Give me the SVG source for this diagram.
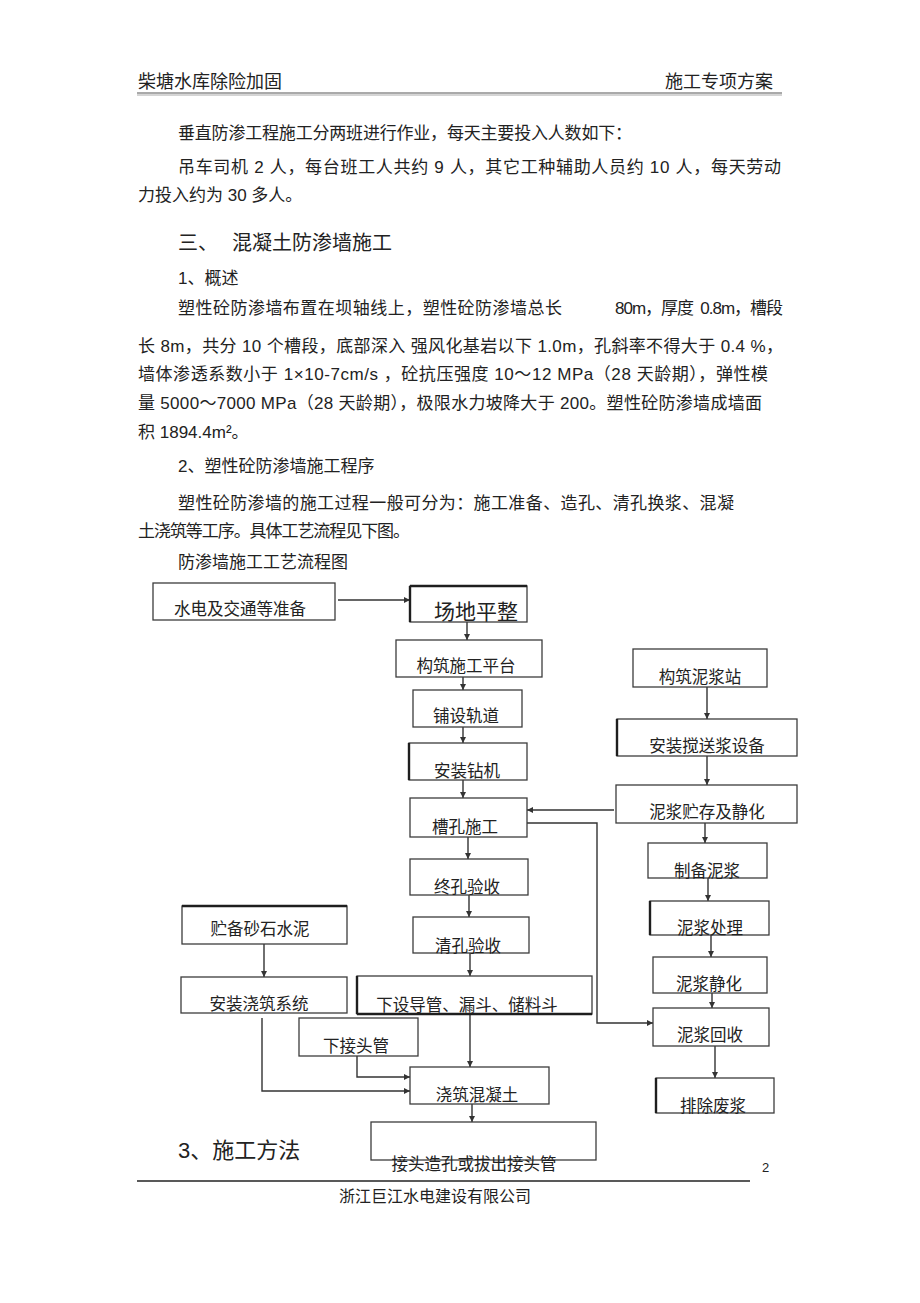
<svg xmlns="http://www.w3.org/2000/svg" width="920" height="1303" viewBox="0 0 920 1303">
<style>
text{font-family:"Liberation Sans","Noto Sans CJK SC",sans-serif;fill:#222}
.body{font-size:17px}
.h1{font-size:20px}
.lbl{font-size:16.5px;text-anchor:middle}
.big{font-size:21px}
.box{fill:none;stroke:#3c3c3c;stroke-width:1.3}
.edge{stroke:#1e1e1e;stroke-width:2.4}
.conn{fill:none;stroke:#333;stroke-width:1.4}
</style>
<defs>
<marker id="ah" viewBox="0 0 10 10" refX="10" refY="5" markerWidth="7" markerHeight="6" markerUnits="userSpaceOnUse" orient="auto">
<path d="M0,0 L10,5 L0,10 z" fill="#333"/>
</marker>
</defs>
<rect width="920" height="1303" fill="#fff"/>

<!-- header -->
<g id="header">
<text x="138" y="88" font-size="18">柴塘水库除险加固</text>
<text x="773" y="88" font-size="18" text-anchor="end">施工专项方案</text>
<line x1="137" y1="93" x2="782" y2="93" stroke="#555" stroke-width="1"/>
<line x1="137" y1="95" x2="782" y2="95" stroke="#aaa" stroke-width="1"/>
</g>

<!-- body text -->
<g id="bodytext">
<text class="body" x="178" y="139" textLength="454" lengthAdjust="spacing">垂直防渗工程施工分两班进行作业，每天主要投入人数如下：</text>
<text class="body" x="178" y="173" textLength="603" lengthAdjust="spacing">吊车司机 2 人，每台班工人共约 9 人，其它工种辅助人员约 10 人，每天劳动</text>
<text class="body" x="138" y="201">力投入约为 30 多人。</text>
<text class="h1" x="178" y="250">三、<tspan x="232">混凝土防渗墙施工</tspan></text>
<text class="body" x="178" y="284">1、概述</text>
<text class="body" y="314"><tspan x="178" textLength="384" lengthAdjust="spacing">塑性砼防渗墙布置在坝轴线上，塑性砼防渗墙总长</tspan><tspan x="615" textLength="168" lengthAdjust="spacing" xml:space="preserve">80m，厚度  0.8m，槽段</tspan></text>
<text class="body" x="138" y="352" textLength="645" lengthAdjust="spacing">长 8m，共分 10 个槽段，底部深入 强风化基岩以下 1.0m，孔斜率不得大于 0.4 %，</text>
<text class="body" x="138" y="380" textLength="630" lengthAdjust="spacing">墙体渗透系数小于 1×10-7cm/s ，砼抗压强度 10～12 MPa（28 天龄期），弹性模</text>
<text class="body" x="138" y="409" textLength="624" lengthAdjust="spacing">量 5000～7000 MPa（28 天龄期），极限水力坡降大于 200。塑性砼防渗墙成墙面</text>
<text class="body" x="138" y="438">积 1894.4m²。</text>
<text class="body" x="178" y="472">2、塑性砼防渗墙施工程序</text>
<text class="body" x="178" y="509" textLength="556" lengthAdjust="spacing">塑性砼防渗墙的施工过程一般可分为：施工准备、造孔、清孔换浆、混凝</text>
<text class="body" x="138" y="537" textLength="272" lengthAdjust="spacing">土浇筑等工序。具体工艺流程见下图。</text>
<text class="body" x="178" y="568">防渗墙施工工艺流程图</text>
</g>

<!-- connectors -->
<g id="connectors" class="conn">
<line x1="338" y1="600" x2="410" y2="600" marker-end="url(#ah)"/>
<line x1="467" y1="622" x2="467" y2="640" marker-end="url(#ah)"/>
<line x1="463" y1="677" x2="463" y2="690" marker-end="url(#ah)"/>
<line x1="463" y1="727" x2="463" y2="743" marker-end="url(#ah)"/>
<line x1="463" y1="780" x2="463" y2="798" marker-end="url(#ah)"/>
<line x1="468" y1="837" x2="468" y2="859" marker-end="url(#ah)"/>
<line x1="469" y1="895" x2="469" y2="917" marker-end="url(#ah)"/>
<line x1="470" y1="953" x2="470" y2="976" marker-end="url(#ah)"/>
<line x1="470" y1="1014" x2="470" y2="1067" marker-end="url(#ah)"/>
<line x1="472" y1="1104" x2="472" y2="1122" marker-end="url(#ah)"/>
<line x1="264" y1="944" x2="264" y2="977" marker-end="url(#ah)"/>
<polyline points="357,1056 357,1077 410,1077" marker-end="url(#ah)"/>
<polyline points="262,1018 262,1091 410,1091" marker-end="url(#ah)"/>
<line x1="707" y1="687" x2="707" y2="719" marker-end="url(#ah)"/>
<line x1="707" y1="756" x2="707" y2="785" marker-end="url(#ah)"/>
<line x1="705" y1="823" x2="705" y2="843" marker-end="url(#ah)"/>
<line x1="708" y1="878" x2="708" y2="901" marker-end="url(#ah)"/>
<line x1="711" y1="935" x2="711" y2="957" marker-end="url(#ah)"/>
<line x1="712" y1="993" x2="712" y2="1008" marker-end="url(#ah)"/>
<line x1="715" y1="1046" x2="715" y2="1078" marker-end="url(#ah)"/>
<line x1="614" y1="810" x2="527" y2="810" marker-end="url(#ah)"/>
<polyline points="527,823 597,823 597,1023 653,1023" marker-end="url(#ah)"/>
</g>

<!-- nodes -->
<g id="n-shuidian"><rect class="box" x="153" y="583" width="182" height="37"/><text class="lbl" x="240" y="615">水电及交通等准备</text></g>
<g id="n-changdi"><rect class="box" x="410" y="586" width="117" height="36"/><line class="edge" x1="410" y1="586" x2="410" y2="622"/><line class="edge" x1="410" y1="586" x2="527" y2="586"/><text class="lbl big" x="476" y="619">场地平整</text></g>
<g id="n-pingtai"><rect class="box" x="396" y="640" width="146" height="37"/><text class="lbl" x="466" y="672">构筑施工平台</text></g>
<g id="n-guidao"><rect class="box" x="413" y="690" width="109" height="37"/><text class="lbl" x="466" y="722">铺设轨道</text></g>
<g id="n-zuanji"><rect class="box" x="409" y="743" width="118" height="37"/><line class="edge" x1="409" y1="743" x2="409" y2="780"/><text class="lbl" x="467" y="777">安装钻机</text></g>
<g id="n-caokong"><rect class="box" x="410" y="798" width="117" height="39"/><text class="lbl" x="465" y="833">槽孔施工</text></g>
<g id="n-zhongkong"><rect class="box" x="410" y="859" width="118" height="36"/><text class="lbl" x="467" y="893">终孔验收</text></g>
<g id="n-qingkong"><rect class="box" x="413" y="917" width="116" height="36"/><text class="lbl" x="468" y="952">清孔验收</text></g>
<g id="n-zhubei"><rect class="box" x="182" y="906" width="165" height="38"/><line class="edge" x1="182" y1="906" x2="347" y2="906"/><text class="lbl" x="260" y="935">贮备砂石水泥</text></g>
<g id="n-jiaozhuxt"><rect class="box" x="181" y="977" width="166" height="36"/><text class="lbl" x="259" y="1010">安装浇筑系统</text></g>
<g id="n-daoguan"><rect class="box" x="357" y="976" width="235" height="38"/><line class="edge" x1="357" y1="976" x2="357" y2="1014"/><line class="edge" x1="357" y1="1014" x2="592" y2="1014"/><text class="lbl" x="467" y="1011">下设导管、漏斗、储料斗</text></g>
<g id="n-jietouguan"><rect class="box" x="299" y="1018" width="119" height="38"/><text class="lbl" x="356" y="1052">下接头管</text></g>
<g id="n-jiaozhu"><rect class="box" x="410" y="1067" width="139" height="37"/><text class="lbl" x="477" y="1101">浇筑混凝土</text></g>
<g id="n-jietouzaokong"><rect class="box" x="371" y="1122" width="225" height="38"/><text class="lbl" x="474" y="1170">接头造孔或拔出接头管</text></g>
<g id="n-nijiangzhan"><rect class="box" x="633" y="649" width="134" height="38"/><text class="lbl" x="700" y="683">构筑泥浆站</text></g>
<g id="n-jiaosong"><rect class="box" x="617" y="719" width="180" height="37"/><line class="edge" x1="617" y1="719" x2="617" y2="756"/><text class="lbl" x="707" y="752">安装搅送浆设备</text></g>
<g id="n-zhucun"><rect class="box" x="616" y="785" width="181" height="38"/><text class="lbl" x="707" y="818">泥浆贮存及静化</text></g>
<g id="n-zhibei"><rect class="box" x="648" y="843" width="119" height="35"/><text class="lbl" x="707" y="877">制备泥浆</text></g>
<g id="n-chuli"><rect class="box" x="650" y="901" width="119" height="34"/><line class="edge" x1="650" y1="901" x2="650" y2="935"/><text class="lbl" x="710" y="934">泥浆处理</text></g>
<g id="n-jinghua"><rect class="box" x="653" y="957" width="114" height="36"/><text class="lbl" x="709" y="990">泥浆静化</text></g>
<g id="n-huishou"><rect class="box" x="653" y="1008" width="116" height="38"/><text class="lbl" x="710" y="1041">泥浆回收</text></g>
<g id="n-feijiang"><rect class="box" x="656" y="1078" width="118" height="35"/><line class="edge" x1="656" y1="1078" x2="656" y2="1113"/><text class="lbl" x="713" y="1112">排除废浆</text></g>

<!-- footer -->
<g id="footer">
<text x="178" y="1158" font-size="22">3、施工方法</text>
<text x="762" y="1172" font-size="13">2</text>
<line x1="137" y1="1181" x2="750" y2="1181" stroke="#222" stroke-width="1.3"/>
<text x="435" y="1202" font-size="16" text-anchor="middle">浙江巨江水电建设有限公司</text>
</g>
</svg>
